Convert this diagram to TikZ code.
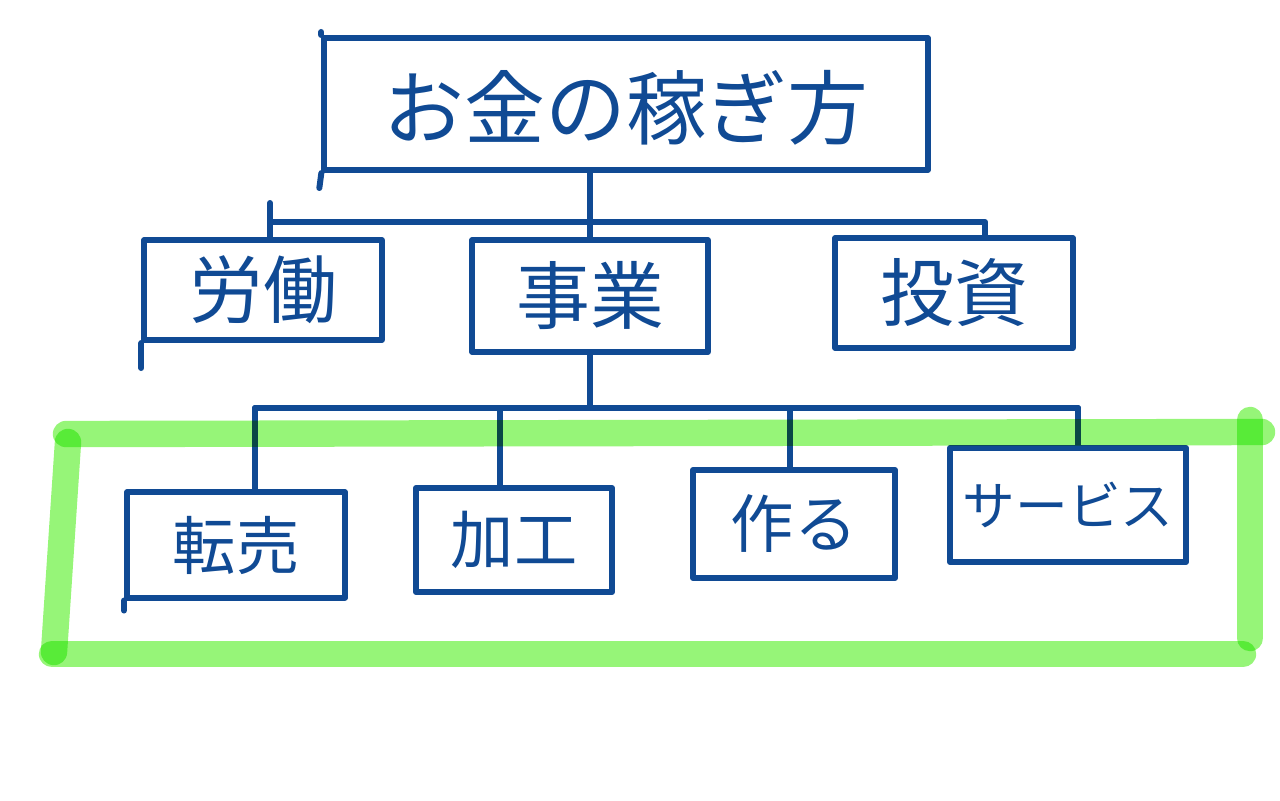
\documentclass[tikz,border=0pt]{standalone}
\usepackage{fontspec}
\setmainfont{Noto Sans CJK JP}
\definecolor{pen}{RGB}{16,74,148}
\definecolor{marker}{RGB}{150,245,120}

\begin{document}
\begin{tikzpicture}[x=0.01cm,y=-0.01cm,line width=1.7pt,line cap=round,line join=round,
	box/.style={draw=pen,text=pen,inner sep=0pt},
	title/.style={box,font=\fontsize{23}{26}\selectfont},
	branch/.style={box,font=\fontsize{21}{24}\selectfont},
	leaf/.style={box,font=\fontsize{18}{21}\selectfont},
	hilite/.style={marker,line width=7.5pt}]
					\useasboundingbox (0,0) rectangle (1280,800);
					
					% top
					\node[title,minimum width=6.03cm,minimum height=1.32cm,text depth=-0.25cm] (money) at (626,104) {お金の稼ぎ方};
					\draw[pen] (money.south west) -- ++(-2,15);
					\draw[pen] (money.north west) -- ++(0,-3);
					
					% second row
					\node[branch,minimum width=2.37cm,minimum height=1.0cm] (labor) at (263,290) {労働};
					\node[branch,minimum width=2.35cm,minimum height=1.12cm] (job) at (590,296) {事業};
					\node[branch,minimum width=2.37cm,minimum height=1.1cm] (invest) at (954,293) {投資};
					\draw[pen] (labor.south west) -- ++(0,25);
					
					\coordinate (barAL) at (270,222);
					\coordinate (barAR) at (985,222);
					\draw[pen] (money.south -| job.north) -- (job.north);
					\draw[pen] (barAL) -- (barAR) -- (barAR |- invest.north);
					\draw[pen] (270,203) -- (270,203 |- labor.north);
					
					% third row
					\node[leaf,minimum width=2.18cm,minimum height=1.05cm] (resale) at (236,545) {転売};
					\node[leaf,minimum width=1.96cm,minimum height=1.04cm] (process) at (514,540) {加工};
					\node[leaf,minimum width=2.02cm,minimum height=1.08cm] (make) at (794,524) {作る};
					\node[leaf,minimum width=2.36cm,minimum height=1.14cm,font=\fontsize{15}{18}\selectfont] (service) at (1068,505) {サービス};
					\draw[pen] (resale.south west) -- ++(0,10);
					
					\coordinate (barBL) at (255,408);
					\coordinate (barBR) at (1078,408);
					\draw[pen] (job.south) -- (job.south |- barBL);
					\draw[pen] (barBL) -- (barBR);
					\foreach \x/\n in {255/resale,500/process,790/make,1078/service}
						\draw[pen] (\x,408) -- (\x,408 |- \n.north);
					
					% green marker
					\begin{scope}[blend mode=multiply]
						\draw[hilite] (66,434) -- (1262,432);
						\draw[hilite] (1250,420) -- (1250,638);
						\draw[hilite] (1243,654) -- (52,654);
						\draw[hilite] (68,442) -- (54,652);
					\end{scope}
					\end{tikzpicture}
\end{document}
